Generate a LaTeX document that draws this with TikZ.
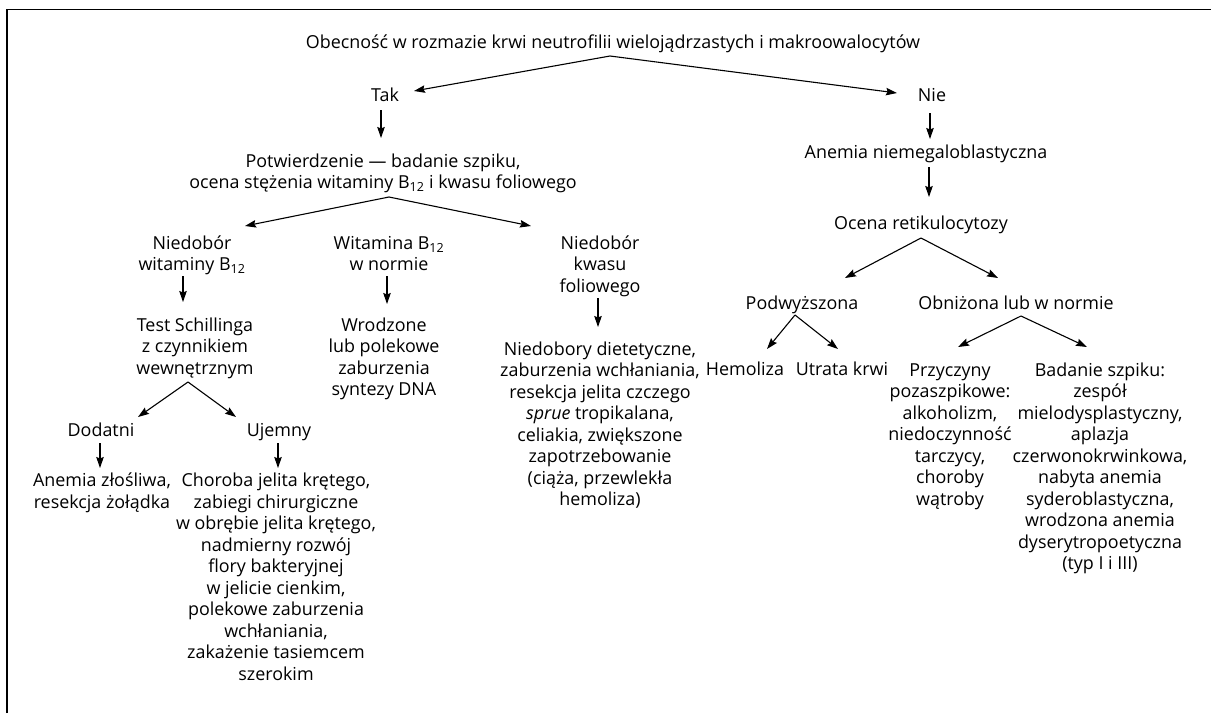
\documentclass[tikz,border=0pt]{standalone}
\usepackage{fontspec}
\setmainfont{Open Sans}
\usetikzlibrary{arrows.meta}
\tikzset{
  txt/.style={align=center, inner sep=0pt, anchor=north, font=\fontsize{17.9}{21.5}\selectfont},
  arr/.style={-{Stealth[length=11pt,width=7.5pt,inset=1.5pt]}, line width=1.1pt},
  frameline/.style={line width=1.3pt}
}
\begin{document}
\begin{tikzpicture}[x=1pt,y={(0pt,-1pt)}]
\useasboundingbox (0,0) rectangle (1211,713);
% frame (top and left edges visible)
\draw[frameline] (7,713) -- (7,9.5) -- (1211,9.5);

% nodes
\node[txt] (title) at (613,33) {\strut Obecność w rozmazie krwi neutrofilii wielojądrzastych i makroowalocytów};
\node[txt] (tak) at (385,86) {\strut Tak};
\node[txt] (nie) at (932,86) {\strut Nie};
\node[txt] (potw) at (383,152) {\strut Potwierdzenie — badanie szpiku,\\ocena stężenia witaminy B\textsubscript{12} i kwasu foliowego};
\node[txt] (anem) at (926,143) {\strut Anemia niemegaloblastyczna};
\node[txt] (ocena) at (921,214) {\strut Ocena retikulocytozy};
\node[txt] (nwit) at (192,234) {\strut Niedobór\\witaminy B\textsubscript{12}};
\node[txt] (wnorm) at (389,234) {\strut Witamina B\textsubscript{12}\\w normie};
\node[txt] (nkwas) at (600,234) {\strut Niedobór\\kwasu\\foliowego};
\node[txt] (schill) at (195,316) {\strut Test Schillinga\\z czynnikiem\\wewnętrznym};
\node[txt] (wrodz) at (384,316) {\strut Wrodzone\\lub polekowe\\zaburzenia\\syntezy DNA};
\node[txt] (niedob) at (600,340) {\strut Niedobory dietetyczne,\\zaburzenia wchłaniania,\\resekcja jelita czczego\\\textit{sprue} tropikalana,\\celiakia, zwiększone\\zapotrzebowanie\\(ciąża, przewlekła\\hemoliza)};
\node[txt] (dod) at (101,421) {\strut Dodatni};
\node[txt] (uje) at (279,421) {\strut Ujemny};
\node[txt] (anzl) at (102,471.5) {\strut Anemia złośliwa,\\resekcja żołądka};
\node[txt] (chor) at (276,471.5) {\strut Choroba jelita krętego,\\zabiegi chirurgiczne\\w obrębie jelita krętego,\\nadmierny rozwój\\flory bakteryjnej\\w jelicie cienkim,\\polekowe zaburzenia\\wchłaniania,\\zakażenie tasiemcem\\szerokim};
\node[txt] (podw) at (802,294) {\strut Podwyższona};
\node[txt] (obn) at (1016,294) {\strut Obniżona lub w normie};
\node[txt] (hem) at (745,360) {\strut Hemoliza};
\node[txt] (utr) at (842,360) {\strut Utrata krwi};
\node[txt] (przy) at (950,361) {\strut Przyczyny\\pozaszpikowe:\\alkoholizm,\\niedoczynność\\tarczycy,\\choroby\\wątroby};
\node[txt] (bad) at (1100,361) {\strut Badanie szpiku:\\zespół\\mielodysplastyczny,\\aplazja\\czerwonokrwinkowa,\\nabyta anemia\\syderoblastyczna,\\wrodzona anemia\\dyserytropoetyczna\\(typ I i III)};

% connector points
\coordinate (aTitle) at (610,56);
\coordinate (tTak) at (414,91);
\coordinate (tNie) at (897,93);
\coordinate (sTak) at (381,110);
\coordinate (ePotw) at (381,138);
\coordinate (aPotw) at (389,197);
\coordinate (tNwit) at (245,226);
\coordinate (tNkwas) at (531,226);
\coordinate (sNwit) at (183,276);
\coordinate (eSchill) at (183,302);
\coordinate (sWnorm) at (387,276);
\coordinate (eWrodz) at (387,304);
\coordinate (sNkwas) at (598,298);
\coordinate (eNiedob) at (598,327);
\coordinate (aSchill) at (188,382);
\coordinate (tDod) at (138,417);
\coordinate (tUje) at (236,417);
\coordinate (sDod) at (100,443);
\coordinate (eAnzl) at (100,468);
\coordinate (sUje) at (278,443);
\coordinate (eChor) at (278,468);
\coordinate (sNie) at (930,113);
\coordinate (eAnem) at (930,139);
\coordinate (sAnem) at (929,167);
\coordinate (eOcena) at (929,197);
\coordinate (aOcena) at (921,238);
\coordinate (tPodw) at (845,278);
\coordinate (tObn) at (998,278);
\coordinate (aPodw) at (795,315);
\coordinate (tHem) at (767,349);
\coordinate (tUtr) at (838,349);
\coordinate (aObn) at (1021,316);
\coordinate (tPrzy) at (958,347);
\coordinate (tBad) at (1087,347);

% connectors
\draw[arr] (aTitle) -- (tTak);
\draw[arr] (aTitle) -- (tNie);
\draw[arr] (sTak) -- (ePotw);
\draw[arr] (aPotw) -- (tNwit);
\draw[arr] (aPotw) -- (tNkwas);
\draw[arr] (sNwit) -- (eSchill);
\draw[arr] (sWnorm) -- (eWrodz);
\draw[arr] (sNkwas) -- (eNiedob);
\draw[arr] (aSchill) -- (tDod);
\draw[arr] (aSchill) -- (tUje);
\draw[arr] (sDod) -- (eAnzl);
\draw[arr] (sUje) -- (eChor);
\draw[arr] (sNie) -- (eAnem);
\draw[arr] (sAnem) -- (eOcena);
\draw[arr] (aOcena) -- (tPodw);
\draw[arr] (aOcena) -- (tObn);
\draw[arr] (aPodw) -- (tHem);
\draw[arr] (aPodw) -- (tUtr);
\draw[arr] (aObn) -- (tPrzy);
\draw[arr] (aObn) -- (tBad);
\end{tikzpicture}
\end{document}
